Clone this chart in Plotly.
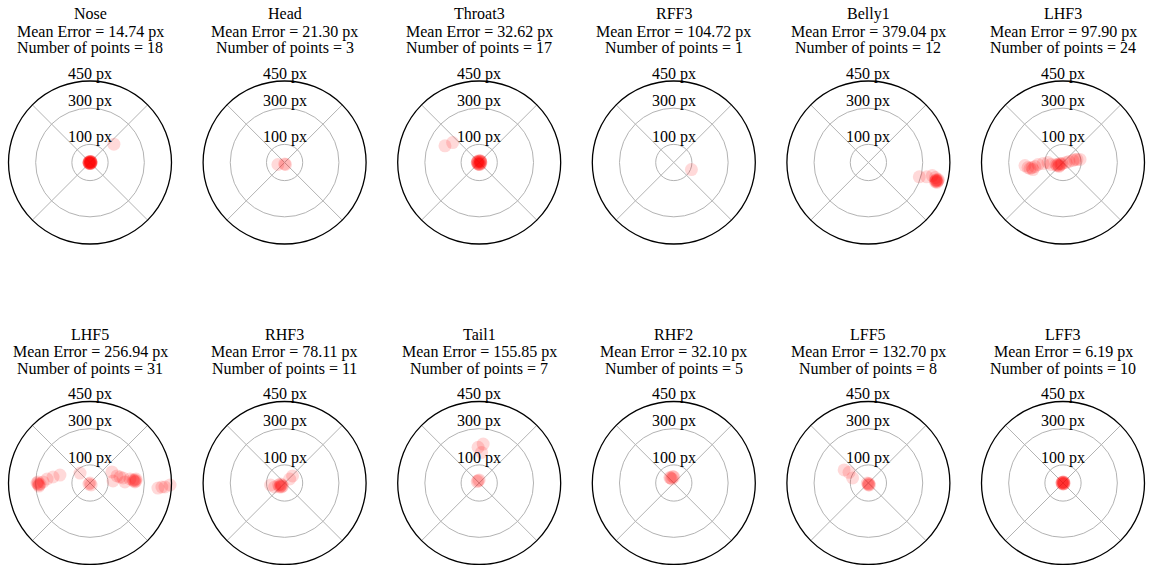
import numpy as np
import plotly.graph_objects as go

# Keypoint names, summary statistics and per-point localisation errors (x, y offsets in px)
names = ["Nose", "Head", "Throat3", "RFF3", "Belly1", "LHF3",
         "LHF5", "RHF3", "Tail1", "RHF2", "LFF5", "LFF3"]
mean_error = [14.74, 21.30, 32.62, 104.72, 379.04, 97.90,
              256.94, 78.11, 155.85, 32.10, 132.70, 6.19]
n_points = [18, 3, 17, 1, 12, 24, 31, 11, 7, 5, 8, 10]

err_nose_x = [132, 4, -5, 6, -3, 2, 5, -6, 3, -2, 7, -4, 1, 5, -5, 4, -6, 2]
err_nose_y = [101, 3, 2, -1, -5, 6, 4, -2, -4, 5, 1, -4, -6, -3, 3, 5, 0, -5]

err_head_x = [-37, 5, 0]
err_head_y = [-11, -11, -8]

err_throat3_x = [-189, -147, 8, -9, 3, -6, 10, -2, 7, -10, 5, -4, 9, -8, 1, 6, -11]
err_throat3_y = [92, 110, 6, 4, -10, -8, -2, 10, -7, -3, 9, -9, 3, 6, -11, 8, 1]

err_rff3_x = [97.1]
err_rff3_y = [-39.2]

err_belly1_x = [281, 322, 353, 370, 372, 380, 376, 384, 370, 378, 386, 374]
err_belly1_y = [-79, -79, -72, -83, -98, -104, -95, -100, -106, -110, -94, -102]

err_lhf3_x = [-210, -193, -182, -171, -166, -155, -138, -110, -83, -66,
              -33, -28, -22, -17, -11, -22, -6, -39, 17, 33, 55, 66, 77, 94]
err_lhf3_y = [-17, -28, -33, -28, -39, -22, -11, -6, 0, -11,
              -17, -11, -17, -6, -11, -22, -6, -11, 0, 6, 11, 17, 17, 17]

err_lhf5_x = [-287, -282, -293, -276, -287, -282, -259, -237, -204, -166, -55,
              -6, 6, 0, 121, 127, 149, 166, 182, 193, 221,
              248, 243, 254, 248, 237, 254, 375, 397, 414, 442]
err_lhf5_y = [-6, -11, 0, -6, 6, -17, 6, 22, 33, 44, 55,
              -6, -11, 0, 61, 11, 39, 33, 28, 6, 22,
              17, 11, 22, 6, 17, 11, -28, -22, -22, -11]

err_rhf3_x = [-22, -17, -28, -11, -33, -22, -17, -55, -77, 44, 28]
err_rhf3_y = [-17, -11, -22, -17, -11, -6, -22, -22, -11, 39, 22]

err_tail1_x = [22, -6, 13, 420, -6, 0, -11]
err_tail1_y = [215, 197, 169, 195, 13, 17, 8]

err_rhf2_x = [-17, 0, -11, -6, -22]
err_rhf2_y = [28, 33, 22, 36, 30]

err_lff5_x = [0, 6, -6, 0, 3, -134, -107, -87]
err_lff5_y = [-6, -11, 0, -11, -3, 72, 59, 28]

err_lff3_x = [5, -4, 3, -6, 1, 6, -3, -5, 2, 4]
err_lff3_y = [3, 4, -5, -1, 6, -2, -5, 2, 5, -4]

errors_x = [err_nose_x, err_head_x, err_throat3_x, err_rff3_x, err_belly1_x, err_lhf3_x,
            err_lhf5_x, err_rhf3_x, err_tail1_x, err_rhf2_x, err_lff5_x, err_lff3_x]
errors_y = [err_nose_y, err_head_y, err_throat3_y, err_rff3_y, err_belly1_y, err_lhf3_y,
            err_lhf5_y, err_rhf3_y, err_tail1_y, err_rhf2_y, err_lff5_y, err_lff3_y]

ring_ticks = [100, 300, 450]
max_radius = 450

# Page geometry (pixels)
W, H = 1149, 565
col_centers = [90, 284.6, 479.2, 673.8, 868.4, 1063]
row_centers = [162.5, 483]
R = 81.5
title_offsets = [148.5, 131, 114.2]  # line centres above the circle centre
ring_label_gap = 7.2                  # label centre above its ring

FONT = "Liberation Serif, Times New Roman, serif"

fig = go.Figure()
annotations = []
layout_polars = {}

for i, name in enumerate(names):
    row, col = divmod(i, 6)
    cx, cy = col_centers[col], row_centers[row]
    key = "polar" if i == 0 else f"polar{i + 1}"

    ex = np.asarray(errors_x[i], dtype=float)
    ey = np.asarray(errors_y[i], dtype=float)
    r = np.hypot(ex, ey)
    theta = np.degrees(np.arctan2(ey, ex))

    fig.add_trace(go.Scatterpolar(
        r=r, theta=theta, mode="markers", subplot=key,
        marker=dict(size=13, color="rgba(255,0,0,0.15)", line=dict(width=0)),
        showlegend=False, hoverinfo="skip",
    ))

    layout_polars[key] = dict(
        domain=dict(x=[(cx - R) / W, (cx + R) / W],
                    y=[1 - (cy + R) / H, 1 - (cy - R) / H]),
        bgcolor="white",
        radialaxis=dict(range=[0, max_radius], tickvals=[100, 300],
                        showticklabels=False, ticks="", showline=False,
                        gridcolor="#b3b3b3", gridwidth=1),
        angularaxis=dict(tickvals=[45, 135, 225, 315], showticklabels=False,
                         ticks="", showline=True, linecolor="black", linewidth=1.3,
                         gridcolor="#b3b3b3", gridwidth=1),
    )

    # ring labels, centred on the vertical just above each ring
    for t in ring_ticks:
        ring_top = cy - t / max_radius * R
        annotations.append(dict(
            text=f"{t} px", x=cx / W, y=1 - (ring_top - ring_label_gap) / H,
            xref="paper", yref="paper", xanchor="center", yanchor="middle",
            showarrow=False, font=dict(family=FONT, size=16, color="black"),
        ))

    lines = [name, f"Mean Error = {mean_error[i]:.2f} px",
             f"Number of points = {n_points[i]}"]
    for line, off in zip(lines, title_offsets):
        annotations.append(dict(
            text=line, x=cx / W, y=1 - (cy - off) / H, xref="paper", yref="paper",
            xanchor="center", yanchor="middle", showarrow=False,
            font=dict(family=FONT, size=16, color="black"),
        ))

fig.update_layout(
    width=W, height=H, margin=dict(l=0, r=0, t=0, b=0),
    paper_bgcolor="white", plot_bgcolor="white",
    annotations=annotations, showlegend=False,
    **layout_polars,
)

fig.write_html("out.html")
